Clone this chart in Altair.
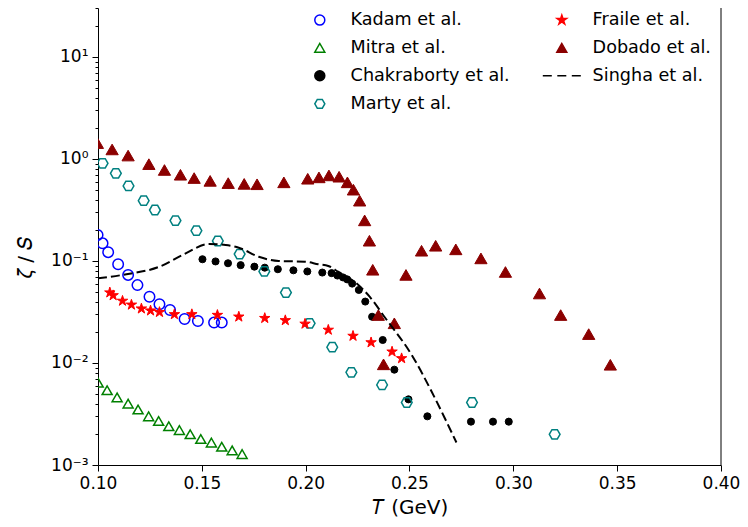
import altair as alt
import pandas as pd

# ---------------- data ----------------
kadam_T = [0.0998, 0.1022, 0.1049, 0.1097, 0.1145, 0.1190, 0.1248, 0.1296, 0.1347, 0.1417, 0.1481, 0.1559, 0.1596]
kadam_z = [0.180, 0.149, 0.122, 0.093, 0.073, 0.058, 0.0446, 0.0377, 0.0331, 0.0270, 0.0258, 0.0249, 0.0249]

mitra_T = [0.1001, 0.1044, 0.1092, 0.1145, 0.1193, 0.1244, 0.1292, 0.1341, 0.1392, 0.1444, 0.1495, 0.1546, 0.1596, 0.1646, 0.1694]
mitra_z = [0.0064, 0.0054, 0.0046, 0.0040, 0.0035, 0.0030, 0.0027, 0.0024, 0.0022, 0.0020, 0.0018, 0.00166, 0.00151, 0.00139, 0.00128]

chak_T = [0.1503, 0.1566, 0.1626, 0.1687, 0.1753, 0.1803, 0.1866, 0.1941, 0.2008, 0.2080, 0.2125, 0.2153, 0.2180,
          0.2200, 0.2224, 0.2256, 0.2287, 0.2320, 0.2371, 0.2427, 0.2495, 0.2586, 0.2796, 0.2902, 0.2978]
chak_z = [0.104, 0.099, 0.095, 0.091, 0.088, 0.086, 0.083, 0.081, 0.079, 0.077, 0.076, 0.072, 0.069,
          0.066, 0.060, 0.052, 0.040, 0.0284, 0.0168, 0.0086, 0.0044, 0.0030, 0.00266, 0.00266, 0.00266]

marty_T = [0.1022, 0.1086, 0.1147, 0.1220, 0.1274, 0.1373, 0.1474, 0.1577, 0.1682, 0.1801, 0.1905, 0.2019,
           0.2128, 0.2220, 0.2368, 0.2487, 0.2801, 0.3199]
marty_z = [0.906, 0.724, 0.544, 0.390, 0.316, 0.249, 0.198, 0.157, 0.117, 0.079, 0.049, 0.0245,
           0.0143, 0.0081, 0.0061, 0.0041, 0.0041, 0.0020]

fraile_T = [0.1057, 0.1073, 0.1118, 0.1161, 0.1209, 0.1253, 0.1296, 0.1368, 0.1452, 0.1575, 0.1678, 0.1803,
            0.1902, 0.1997, 0.2109, 0.2228, 0.2315, 0.2416, 0.2462]
fraile_z = [0.049, 0.046, 0.0406, 0.0372, 0.0341, 0.0326, 0.0315, 0.0300, 0.0300, 0.0295, 0.0284, 0.0275,
            0.0262, 0.0242, 0.0211, 0.0184, 0.0159, 0.0129, 0.0111]

dobado_T = [0.0997, 0.1068, 0.1145, 0.1245, 0.1320, 0.1397, 0.1463, 0.1540, 0.1627, 0.1704, 0.1766, 0.1895,
            0.2010, 0.2064, 0.2112, 0.2161, 0.2201, 0.2230, 0.2260, 0.2284, 0.2307, 0.2323, 0.2350, 0.2375,
            0.2427, 0.2483, 0.2558, 0.2626, 0.2723, 0.2844, 0.2962, 0.3126, 0.3228, 0.3363, 0.3467]
dobado_z = [1.43, 1.24, 1.08, 0.89, 0.78, 0.70, 0.65, 0.61, 0.58, 0.57, 0.565, 0.59,
            0.64, 0.66, 0.69, 0.67, 0.59, 0.50, 0.39, 0.25, 0.158, 0.082, 0.0295, 0.0097,
            0.0245, 0.073, 0.126, 0.141, 0.130, 0.106, 0.078, 0.048, 0.0295, 0.0192, 0.0096]

singha_T = [0.1000, 0.1137, 0.1296, 0.1408, 0.1535, 0.1615, 0.1678, 0.1774, 0.1870, 0.1997, 0.2061, 0.2109,
            0.2156, 0.2244, 0.2308, 0.2379, 0.2515, 0.2602, 0.2666, 0.2726]
singha_z = [0.0677, 0.0741, 0.0879, 0.1146, 0.1468, 0.1433, 0.1350, 0.1100, 0.1000, 0.0985, 0.0928, 0.0893,
            0.0785, 0.0605, 0.0447, 0.0284, 0.0116, 0.00547, 0.00299, 0.00166]

# draw order (as in the reference)
point_series = [
    ("Kadam et al.", kadam_T, kadam_z),
    ("Mitra et al.", mitra_T, mitra_z),
    ("Chakraborty et al.", chak_T, chak_z),
    ("Marty et al.", marty_T, marty_z),
    ("Fraile et al.", fraile_T, fraile_z),
    ("Dobado et al.", dobado_T, dobado_z),
]

rows = []
for name, xs, ys in point_series:
    for a, b in zip(xs, ys):
        rows.append({"series": name, "T": a, "zeta": b})
df = pd.DataFrame(rows)
singha_df = pd.DataFrame({"T": singha_T, "zeta": singha_z})

# ---------------- styling ----------------
STAR = ("M0,-1L0.2245,-0.309L0.9511,-0.309L0.3633,0.118L0.5878,0.809L0,0.382"
        "L-0.5878,0.809L-0.3633,0.118L-0.9511,-0.309L-0.2245,-0.309Z")
HEX = "M1,0L0.5,0.866L-0.5,0.866L-1,0L-0.5,-0.866L0.5,-0.866Z"
DASH = "M-3.8,0L-2,0M-0.9,0L0.9,0M2,0L3.8,0"

legend_order = ["Kadam et al.", "Mitra et al.", "Chakraborty et al.", "Marty et al.",
                "Fraile et al.", "Dobado et al.", "Singha et al."]
stroke_range = ["#0000ff", "#008000", "#000000", "#008080", "#ff0000", "#8b0000", "#000000"]
fill_range = ["transparent", "transparent", "#000000", "transparent", "#ff0000", "#8b0000", "transparent"]
shape_range = ["circle", "triangle-up", "circle", HEX, STAR, "triangle-up", DASH]

sizes = {"Kadam et al.": 110, "Mitra et al.": 100, "Chakraborty et al.": 50,
         "Marty et al.": 115, "Fraile et al.": 120, "Dobado et al.": 150}
widths = {"Kadam et al.": 1.5, "Mitra et al.": 1.5, "Chakraborty et al.": 1,
          "Marty et al.": 1.5, "Fraile et al.": 1, "Dobado et al.": 1}

FONT = "DejaVu Sans"
xscale = alt.Scale(domain=[0.10, 0.40], nice=False, zero=False)
yscale = alt.Scale(type="log", domain=[0.001, 30.2], nice=False)

xticks = [0.10, 0.15, 0.20, 0.25, 0.30, 0.35, 0.40]
decades = [0.001, 0.01, 0.1, 1, 10]
yticks = [k * d for d in decades for k in range(1, 10) if k * d <= 30.2]

is_decade = " || ".join(f"datum.value == {d}" for d in decades)
label_expr = ("datum.value == 10 ? '10¹' : datum.value == 1 ? '10⁰' : datum.value == 0.1 ? '10⁻¹' : "
              "datum.value == 0.01 ? '10⁻²' : datum.value == 0.001 ? '10⁻³' : ''")

xaxis = alt.Axis(values=xticks, format=".2f", title="𝑇 (GeV)", grid=False, tickSize=6,
                 labelPadding=4, titlePadding=6, titleFontSize=20, titleFontWeight="normal",
                 labelFontSize=17, labelFlush=False)
yaxis = alt.Axis(values=yticks, labelExpr=label_expr, title="𝜁 / 𝑆", grid=False,
                 tickSize={"condition": {"test": is_decade, "value": 6}, "value": 3},
                 labelPadding=4, titleFontSize=20, titleFontWeight="normal", labelFontSize=17,
                 labelFlush=False,
                 titleX=-73, titleY=249, titleBaseline="middle", titleAlign="center")

x_enc = alt.X("T:Q", scale=xscale, axis=xaxis)
y_enc = alt.Y("zeta:Q", scale=yscale, axis=yaxis)

leg = alt.Legend(title=None, orient="none", legendX=213, legendY=3, columns=2, columnPadding=29,
                 rowPadding=9, symbolSize=100, symbolStrokeWidth=1.5, labelFontSize=17.6,
                 labelFont=FONT, labelOffset=22, padding=0, labelLimit=400, labelColor="black")

base = alt.Chart(df).encode(
    x=x_enc,
    y=y_enc,
    fill=alt.Fill("series:N", scale=alt.Scale(domain=legend_order, range=fill_range), legend=leg),
    stroke=alt.Stroke("series:N", scale=alt.Scale(domain=legend_order, range=stroke_range), legend=leg),
    shape=alt.Shape("series:N", scale=alt.Scale(domain=legend_order, range=shape_range), legend=leg),
)

layers = []
for name, _, _ in point_series:
    layers.append(
        base.transform_filter(alt.datum.series == name).mark_point(
            filled=True, size=sizes[name], strokeWidth=widths[name], opacity=1, clip=True)
    )

line = alt.Chart(singha_df).mark_line(
    stroke="black", strokeWidth=2, strokeDash=[9, 4], interpolate="monotone", clip=True
).encode(x=x_enc, y=y_enc)
layers.append(line)

frame = alt.Chart(pd.DataFrame({"T": [0.40]})).mark_rule(color="black", strokeWidth=1).encode(
    x=x_enc
)
layers.append(frame)

chart = alt.layer(*layers).properties(
    width=623, height=457, autosize="none",
    padding={"left": 90, "top": 0, "right": 19, "bottom": 54},
).configure_view(stroke=None).configure_axis(
    domainColor="black", tickColor="black", labelColor="black", titleColor="black",
    labelFont=FONT, titleFont=FONT, domainWidth=1, tickWidth=1,
)

chart.save("out.html", embed_options={"renderer": "svg", "actions": False})
